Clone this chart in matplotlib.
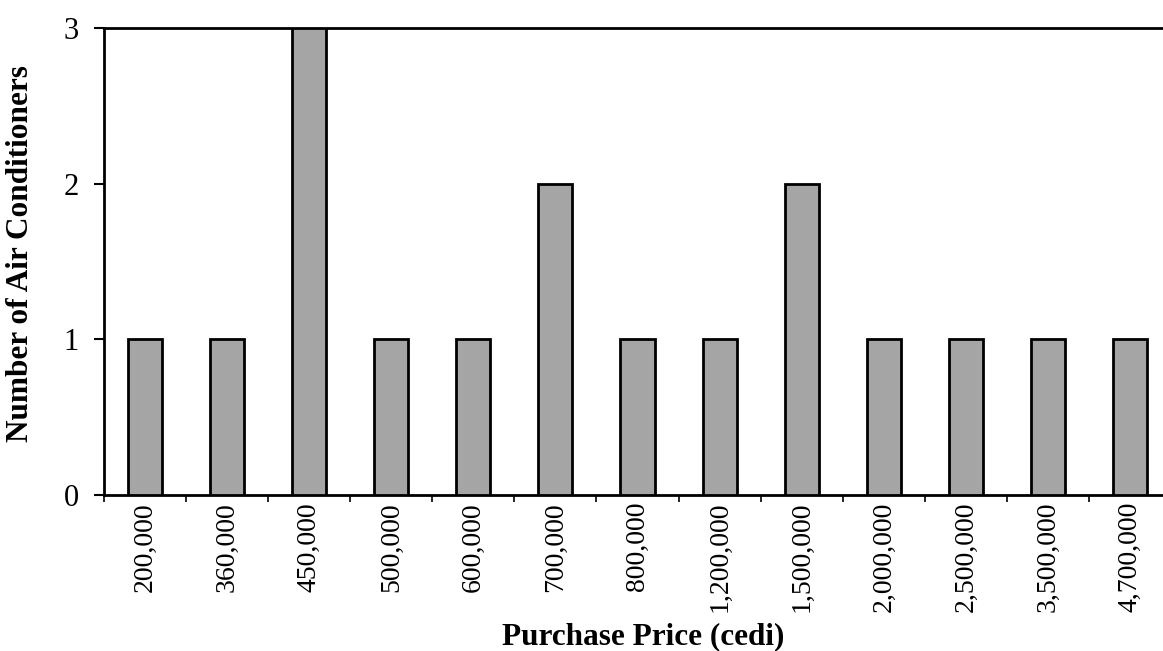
import matplotlib
matplotlib.use("Agg")
import matplotlib.pyplot as plt
import numpy as np

categories = ["200,000", "360,000", "450,000", "500,000", "600,000", "700,000",
              "800,000", "1,200,000", "1,500,000", "2,000,000", "2,500,000",
              "3,500,000", "4,700,000"]
counts = [1, 1, 3, 1, 1, 2, 1, 1, 2, 1, 1, 1, 1]

plt.rcParams['font.family'] = ['Liberation Serif', 'DejaVu Serif']

fig = plt.figure(figsize=(11.63, 6.51), dpi=100)
ax = fig.add_axes([104/1163, 156/651, 1067/1163, 467/651])

x = np.arange(len(categories))
ax.bar(x, counts, width=0.415, color='#a5a5a5', edgecolor='black', linewidth=2, zorder=3)

ax.set_xlim(-0.5, len(categories) - 0.5)
ax.set_ylim(0, 3)
ax.set_yticks([0, 1, 2, 3])
ax.set_xticks(x)
ax.set_xticklabels(categories, rotation=90, fontsize=20)
ax.set_xticks(np.arange(-0.5, len(categories), 1), minor=True)
ax.tick_params(axis='x', which='major', length=0, pad=5)
ax.tick_params(axis='x', which='minor', length=5, width=1.2, direction='out')
ax.tick_params(axis='y', which='major', length=7, width=1.5, direction='out', labelsize=22, pad=11)

for s in ['left', 'bottom', 'top']:
    ax.spines[s].set_linewidth(2)
ax.spines['right'].set_visible(False)

ax.set_ylabel("Number of Air Conditioners", fontsize=22.5, fontweight='bold')
ax.set_xlabel("Purchase Price (cedi)", fontsize=22.5, fontweight='bold')
ax.yaxis.set_label_coords(-0.0647, 0.516)
ax.xaxis.set_label_coords(0.505, -0.272)

fig.savefig("out.png", dpi=100)
